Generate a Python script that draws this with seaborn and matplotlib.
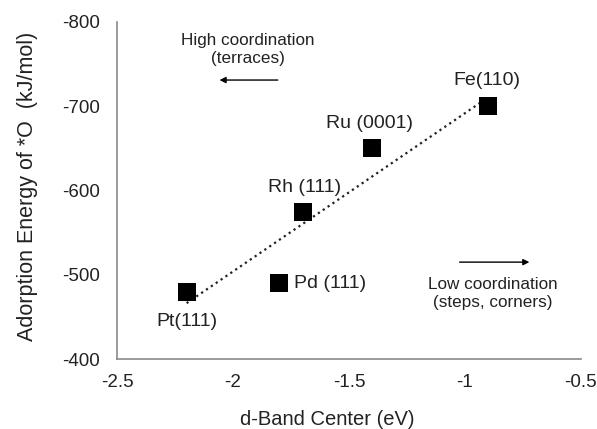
import matplotlib
matplotlib.use('Agg')
import matplotlib.pyplot as plt
import seaborn as sns
import pandas as pd

# d-band centre vs *O adsorption energy
surfaces = ['Pt(111)', 'Pd (111)', 'Rh (111)', 'Ru (0001)', 'Fe(110)']
d_band = [-2.2, -1.8, -1.7, -1.4, -0.9]
e_ads = [-480, -490, -575, -650, -700]

x_ticks = [-2.5, -2, -1.5, -1, -0.5]
x_tick_labels = ['-2.5', '-2', '-1.5', '-1', '-0.5']
y_ticks = [-800, -700, -600, -500, -400]
y_tick_labels = ['-800', '-700', '-600', '-500', '-400']

df = pd.DataFrame({'surface': surfaces, 'dband': d_band, 'energy': e_ads})

sns.set_style('white')
plt.rcParams['font.family'] = ['Liberation Sans', 'DejaVu Sans']

fig = plt.figure(figsize=(5.97, 4.29), dpi=100)
ax = fig.add_axes([0.196, 0.163, 0.777, 0.786])

sns.regplot(data=df, x='dband', y='energy', ax=ax, ci=None, truncate=True,
            marker='s',
            scatter_kws={'s': 165, 'color': 'black', 'alpha': 1, 'zorder': 3,
                         'linewidths': 0},
            line_kws={'color': '#222222', 'ls': ':', 'lw': 1.6, 'zorder': 2})

ax.set_xlim(-2.5, -0.5)
ax.set_ylim(-400, -800)
ax.set_xticks(x_ticks)
ax.set_xticklabels(x_tick_labels)
ax.set_yticks(y_ticks)
ax.set_yticklabels(y_tick_labels)
ax.tick_params(axis='both', length=0, labelsize=13.5, colors='#222222')
ax.tick_params(axis='y', pad=12)
ax.tick_params(axis='x', pad=11)

ax.set_xlabel('d-Band Center (eV)', fontsize=14.5, color='#222222')
ax.set_ylabel('Adorption Energy of *O  (kJ/mol)', fontsize=15.5, color='#222222')
ax.xaxis.set_label_coords(0.454, -0.15)
ax.yaxis.set_label_coords(-0.17, 0.513)

for side in ['top', 'right']:
    ax.spines[side].set_visible(False)
for side in ['left', 'bottom']:
    ax.spines[side].set_color('#8a8a8a')
    ax.spines[side].set_linewidth(1.2)

# point labels
lbl = dict(fontsize=14, color='#222222')
ax.text(-2.2, -445, 'Pt(111)', ha='center', va='center', **lbl)
ax.text(-1.735, -490, 'Pd (111)', ha='left', va='center', **lbl)
ax.text(-1.69, -604, 'Rh (111)', ha='center', va='center', **lbl)
ax.text(-1.41, -680, 'Ru (0001)', ha='center', va='center', **lbl)
ax.text(-0.905, -731, 'Fe(110)', ha='center', va='center', **lbl)

# coordination annotations
ann = dict(fontsize=12.3, color='#222222', ha='center', va='center',
           linespacing=1.2)
ax.text(-1.935, -767, 'High coordination\n(terraces)', **ann)
ax.annotate('', xy=(-2.07, -731), xytext=(-1.795, -731),
            arrowprops=dict(arrowstyle='-|>', color='black', lw=1,
                            mutation_scale=9))
ax.text(-0.88, -478, 'Low coordination\n(steps, corners)', **ann)
ax.annotate('', xy=(-0.71, -515), xytext=(-1.035, -515),
            arrowprops=dict(arrowstyle='-|>', color='black', lw=1,
                            mutation_scale=9))

fig.savefig('out.png', dpi=100)
